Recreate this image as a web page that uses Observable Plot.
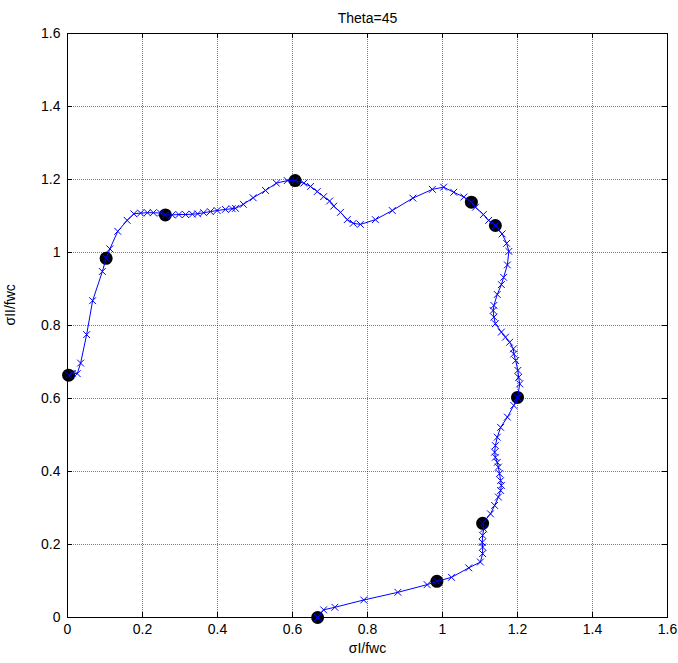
<!DOCTYPE html>
<html>
<head>
<meta charset="utf-8">
<script src="https://cdn.jsdelivr.net/npm/d3@7"></script>
<script src="https://cdn.jsdelivr.net/npm/@observablehq/plot@0.6"></script>
<style>
  html, body { margin: 0; padding: 0; background: #fff; }
</style>
</head>
<body>
<div id="chart"></div>
<script>
// Path of the stress state (blue line with x markers)
const sigmaI = [0.667,0.683,0.713,0.790,0.881,0.959,0.985,1.024,1.070,1.101,1.107,1.107,1.106,1.107,1.110,1.107,1.128,1.139,1.149,1.155,1.157,1.155,1.152,1.149,1.146,1.141,1.139,1.141,1.146,1.155,1.173,1.190,1.200,1.206,1.203,1.201,1.195,1.190,1.189,1.179,1.168,1.157,1.141,1.137,1.135,1.137,1.146,1.157,1.163,1.173,1.177,1.171,1.159,1.141,1.123,1.109,1.088,1.077,1.057,1.030,1.003,0.973,0.921,0.866,0.821,0.781,0.762,0.746,0.728,0.710,0.699,0.683,0.666,0.648,0.630,0.607,0.586,0.557,0.528,0.495,0.469,0.448,0.439,0.421,0.399,0.381,0.363,0.347,0.333,0.315,0.297,0.279,0.261,0.248,0.229,0.213,0.195,0.177,0.159,0.134,0.113,0.103,0.093,0.067,0.051,0.035,0.026,0.013,0.003];
const sigmaII = [0.000,0.021,0.028,0.048,0.069,0.090,0.099,0.110,0.136,0.152,0.175,0.193,0.206,0.225,0.243,0.258,0.284,0.307,0.330,0.348,0.362,0.375,0.394,0.412,0.425,0.439,0.453,0.471,0.494,0.521,0.549,0.581,0.603,0.640,0.658,0.677,0.704,0.722,0.736,0.754,0.768,0.782,0.805,0.823,0.841,0.855,0.885,0.912,0.932,0.966,1.003,1.025,1.051,1.074,1.088,1.104,1.124,1.138,1.152,1.165,1.179,1.173,1.149,1.115,1.090,1.077,1.080,1.090,1.110,1.127,1.141,1.153,1.167,1.181,1.190,1.197,1.197,1.190,1.170,1.150,1.132,1.121,1.120,1.118,1.115,1.112,1.109,1.106,1.105,1.104,1.104,1.103,1.103,1.108,1.109,1.109,1.108,1.106,1.088,1.058,1.010,0.984,0.948,0.868,0.775,0.697,0.668,0.669,0.664];

// Highlighted points (black filled circles)
const keyI  = [0.667,0.985,1.107,1.200,1.141,1.077,0.607,0.261,0.103,0.003];
const keyII = [0.000,0.099,0.258,0.603,1.074,1.138,1.197,1.103,0.984,0.664];

// Ticks
const xTicks = [0,0.2,0.4,0.6,0.8,1,1.2,1.4,1.6];
const xTickLabels = ["0","0.2","0.4","0.6","0.8","1","1.2","1.4","1.6"];
const yTicks = [0,0.2,0.4,0.6,0.8,1,1.2,1.4,1.6];
const yTickLabels = ["0","0.2","0.4","0.6","0.8","1","1.2","1.4","1.6"];

const titleText = "Theta=45";
const xLabel = "σI/fwc";
const yLabel = "σII/fwc";

const path = sigmaI.map((x, i) => ({x, y: sigmaII[i]}));
const keys = keyI.map((x, i) => ({x, y: keyII[i]}));

const W = 678, H = 663;
const mL = 67, mR = 11, mT = 33, mB = 46;
const innerW = W - mL - mR, innerH = H - mT - mB;
const tickLen = 5;

const chart = Plot.plot({
  width: W,
  height: H,
  marginLeft: mL,
  marginRight: mR,
  marginTop: mT,
  marginBottom: mB,
  x: {domain: [0, 1.6]},
  y: {domain: [0, 1.6]},
  style: {fontFamily: "'Liberation Sans', Arial, sans-serif", fontSize: "14px", background: "#fff", color: "#000"},
  marks: [
    Plot.gridX(xTicks, {stroke: "#222", strokeOpacity: 0.6, strokeDasharray: "1,1"}),
    Plot.gridY(yTicks, {stroke: "#222", strokeOpacity: 0.6, strokeDasharray: "1,1"}),
    Plot.frame({stroke: "#000"}),
    // inward ticks on all four sides
    Plot.tickX(xTicks, {x: d => d, insetTop: innerH - tickLen, stroke: "#000"}),
    Plot.tickX(xTicks, {x: d => d, insetBottom: innerH - tickLen, stroke: "#000"}),
    Plot.tickY(yTicks, {y: d => d, insetRight: innerW - tickLen, stroke: "#000"}),
    Plot.tickY(yTicks, {y: d => d, insetLeft: innerW - tickLen, stroke: "#000"}),
    Plot.axisX(xTicks, {tickSize: 0, tickPadding: 7, tickFormat: (d, i) => xTickLabels[i], label: null, fontSize: 14}),
    Plot.axisY(yTicks, {tickSize: 0, tickPadding: 7, tickFormat: (d, i) => yTickLabels[i], label: null, fontSize: 14}),
    Plot.dot(keys, {x: "x", y: "y", r: 6.5, fill: "#000", stroke: "none"}),
    Plot.line(path, {x: "x", y: "y", stroke: "#0000ff", strokeWidth: 1}),
    Plot.dot(path, {x: "x", y: "y", symbol: "times", r: 3.2, stroke: "#0000ff", strokeWidth: 1}),
    Plot.text([titleText], {frameAnchor: "top", dy: -20, fontSize: 14, fill: "#000"}),
    Plot.text([xLabel], {frameAnchor: "bottom", dy: 35, fontSize: 14, fill: "#000"}),
    Plot.text([yLabel], {frameAnchor: "left", dx: -57, rotate: -90, fontSize: 14, fill: "#000"})
  ]
});

document.getElementById("chart").appendChild(chart);
</script>
</body>
</html>
